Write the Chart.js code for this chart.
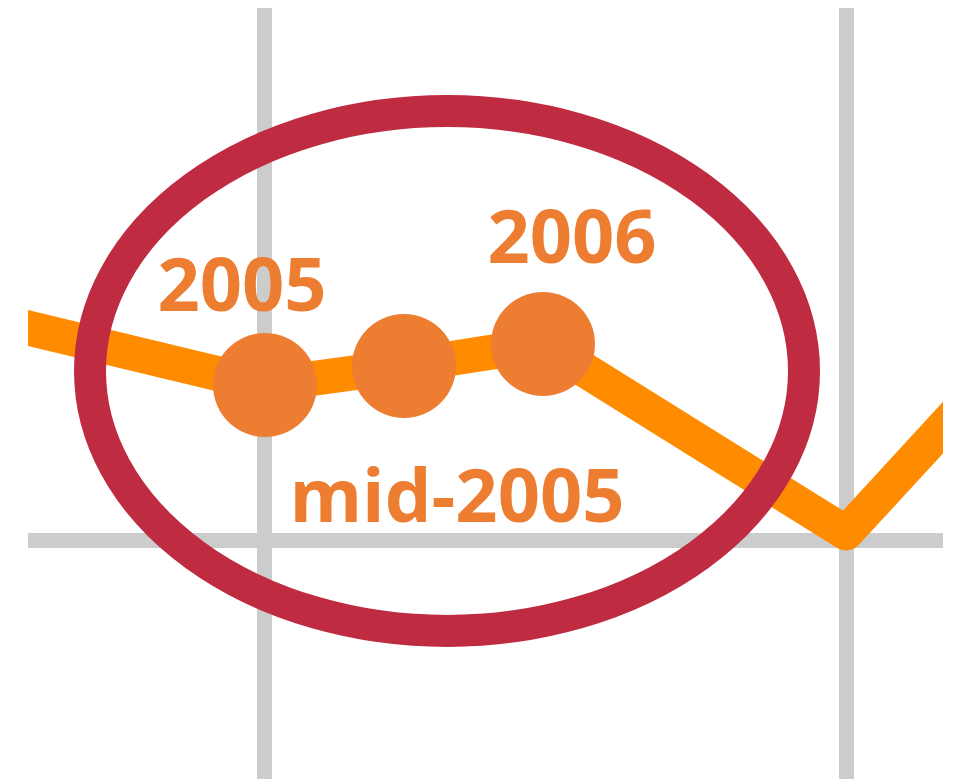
<!DOCTYPE html>
<html>
<head>
<meta charset="utf-8">
<title>mid-2005</title>
<script src="https://cdn.jsdelivr.net/npm/chart.js@4/dist/chart.umd.min.js"></script>
<style>
  html, body { margin: 0; padding: 0; background: #fff; overflow: hidden; }
  #chart { display: block; }
</style>
</head>
<body>
<canvas id="chart" width="958" height="779"></canvas>
<script>
// Serie (x em anos, y em índice)
const years = [2004.0, 2005, 2005.5, 2006, 2007.09, 2007.6]
const values = [2.22, 1.55, 1.74, 1.96, 0.07, 1.61]
const markers = [false, true, true, true, false, false]
const pointLabels = ["", "2005", "mid-2005", "2006", "", ""]

// Linhas de grade
const gridYears = [2005, 2007.09]
const gridValues = [0]

const ORANGE_LINE = "#ff8c00"
const ORANGE_MARK = "#ed7d31"
const RING = "#bf2b40"

// deslocamento de cada rótulo em relação ao ponto
const labelOffsets = {
  "2005": [-23, -74],
  "mid-2005": [53, 156],
  "2006": [29, -81],
}

// Anel em volta dos três pontos
const ringPlugin = {
  id: "ring",
  afterDatasetsDraw(chart) {
    const meta = chart.getDatasetMeta(0)
    const mid = meta.data[2]
    const ctx = chart.ctx
    ctx.save()
    ctx.strokeStyle = RING
    ctx.lineWidth = 32
    ctx.beginPath()
    ctx.ellipse(mid.x + 43, mid.y + 5, 357, 260, 0, 0, Math.PI * 2)
    ctx.stroke()
    ctx.restore()
  },
}

const labelPlugin = {
  id: "pointLabels",
  afterDraw(chart) {
    const meta = chart.getDatasetMeta(0)
    const ctx = chart.ctx
    ctx.save()
    ctx.fillStyle = ORANGE_MARK
    ctx.font = "bold 74px 'Open Sans'"
    ctx.textAlign = "center"
    ctx.textBaseline = "alphabetic"
    pointLabels.forEach((text, i) => {
      if (!text) return
      const p = meta.data[i]
      const off = labelOffsets[text]
      ctx.fillText(text, p.x + off[0], p.y + off[1])
    })
    ctx.restore()
  },
}

const ctx = document.getElementById("chart").getContext("2d")

new Chart(ctx, {
  type: "line",
  data: {
    datasets: [
      {
        data: years.map((x, i) => ({ x: x, y: values[i] })),
        borderColor: ORANGE_LINE,
        borderWidth: 35,
        borderJoinStyle: "round",
        borderCapStyle: "butt",
        tension: 0,
        clip: 0,
        pointRadius: markers.map((m) => (m ? 52 : 0)),
        pointHoverRadius: markers.map((m) => (m ? 52 : 0)),
        pointBackgroundColor: ORANGE_MARK,
        pointBorderWidth: 0,
      },
    ],
  },
  options: {
    responsive: false,
    animation: false,
    events: [],
    layout: {
      padding: { left: 28, right: 15, top: 8, bottom: 0 },
    },
    plugins: {
      legend: { display: false },
      tooltip: { enabled: false },
    },
    scales: {
      x: {
        type: "linear",
        min: 2004.1475,
        max: 2007.4388,
        afterBuildTicks: (scale) => {
          scale.ticks = gridYears.map((v) => ({ value: v }))
        },
        ticks: { display: false },
        border: { display: false },
        grid: { color: "#cccccc", lineWidth: 15, drawTicks: false },
      },
      y: {
        type: "linear",
        min: -2.39,
        max: 5.32,
        afterBuildTicks: (scale) => {
          scale.ticks = gridValues.map((v) => ({ value: v }))
        },
        ticks: { display: false },
        border: { display: false },
        grid: { color: "#cccccc", lineWidth: 15, drawTicks: false },
      },
    },
  },
  plugins: [ringPlugin, labelPlugin],
})
</script>
</body>
</html>
